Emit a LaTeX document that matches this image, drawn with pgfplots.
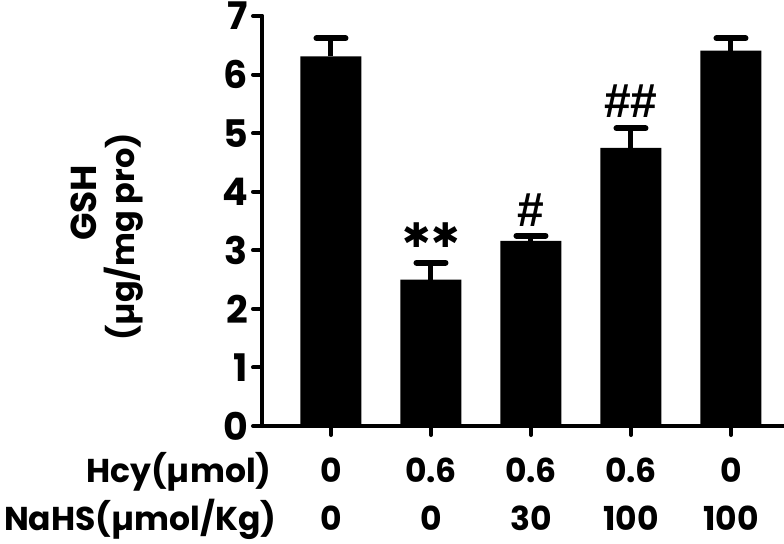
\documentclass[border=0pt]{standalone}
\usepackage{pgfplots}
\pgfplotsset{compat=1.18}
\usepackage{fontspec}
\setmainfont{Poppins}
\newfontfamily\symfont{Liberation Sans}
\newfontfamily\dejavu{DejaVu Sans}

\begin{document}
\begin{tikzpicture}[rowlab/.style={anchor=base, font=\fontsize{16.5}{16.5}\selectfont\bfseries}]
\begin{axis}[
    scale only axis,
    width=261pt, height=205pt,
    xmin=-0.69, xmax=4.53,
    ymin=0, ymax=7,
    axis x line*=bottom,
    axis y line*=left,
    axis line style={line width=2pt, line cap=round},
    xtick={0,1,2,3,4}, xticklabels={},
    ytick={0,1,...,7},
    tick align=outside,
    major tick length=4.5pt,
    tick style={line width=2pt, line cap=round, black},
    /pgf/number format/assume math mode=true,
    yticklabel style={font=\fontsize{19}{19}\selectfont\bfseries, xshift=1pt},
    clip=false,
]
\addplot[ybar, bar width=30.5pt, fill=black, draw=none,
    error bars/.cd, y dir=plus, y explicit,
    error bar style={line width=2.5pt, black},
    error mark options={rotate=90, mark size=7.25pt, line width=3pt, line cap=round, black}]
  table[x=x, y=y, y error=e] {
x y e
0 6.31 0.31
1 2.50 0.29
2 3.16 0.09
3 4.75 0.33
4 6.41 0.21
};

% significance marks
\node[font=\dejavu\fontsize{17}{17}\selectfont\bfseries, inner sep=0pt] at (axis cs:1,3.26) {✱✱};
\node[font=\symfont\fontsize{24}{24}\selectfont\bfseries] at (axis cs:2,3.69) {\#};
\node[font=\symfont\fontsize{24}{24}\selectfont\bfseries] at (axis cs:3,5.54) {\#\#};

% group rows under the axis
\node[rowlab, yshift=-28pt] at (axis cs:0,0) {0};
\node[rowlab, yshift=-28pt] at (axis cs:1,0) {0.6};
\node[rowlab, yshift=-28pt] at (axis cs:2,0) {0.6};
\node[rowlab, yshift=-28pt] at (axis cs:3,0) {0.6};
\node[rowlab, yshift=-28pt] at (axis cs:4,0) {0};
\node[rowlab, yshift=-52pt] at (axis cs:0,0) {0};
\node[rowlab, yshift=-52pt] at (axis cs:1,0) {0};
\node[rowlab, yshift=-52pt] at (axis cs:2,0) {30};
\node[rowlab, yshift=-52pt] at (axis cs:3,0) {100};
\node[rowlab, yshift=-52pt] at (axis cs:4,0) {100};
\end{axis}

\node[anchor=base east, inner sep=0pt, font=\fontsize{16.5}{16.5}\selectfont\bfseries] at (5pt,-28pt) {Hcy(µmol)};
\node[anchor=base east, inner sep=0pt, font=\fontsize{16.5}{16.5}\selectfont\bfseries] at (7.5pt,-52pt) {NaHS(µmol/Kg)};

\node[rotate=90, font=\fontsize{18}{18}\selectfont\bfseries] at (-89pt,111.5pt) {GSH};
\node[rotate=90, font=\fontsize{16}{16}\selectfont\bfseries] at (-69pt,94.5pt) {(µg/mg pro)};

\pgfresetboundingbox
\useasboundingbox (-131pt,-58.5pt) rectangle (261pt,213pt);
\end{tikzpicture}
\end{document}
